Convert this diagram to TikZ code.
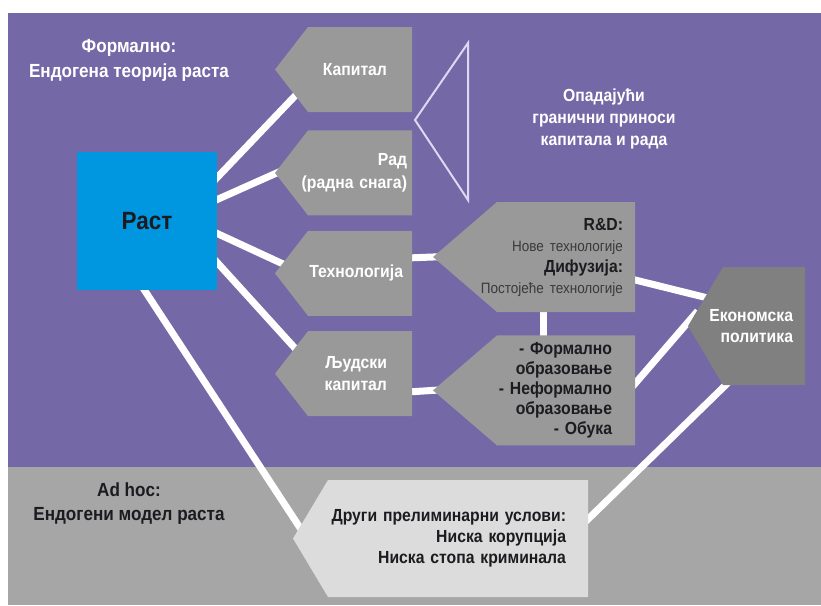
\documentclass[tikz,border=0pt]{standalone}
\usepackage{fontspec}
\setmainfont{Liberation Sans}[FakeStretch=0.9]
\usepackage{tikz}
\usetikzlibrary{positioning,calc,backgrounds}

\definecolor{bgpurple}{RGB}{116,104,166}
\definecolor{bggrey}{RGB}{166,166,166}
\definecolor{boxgrey}{RGB}{153,153,153}
\definecolor{darkgrey}{RGB}{128,128,128}
\definecolor{lightgrey}{RGB}{220,220,220}
\definecolor{rastblue}{RGB}{0,150,224}
\definecolor{bracketline}{RGB}{222,216,242}
\definecolor{darktext}{RGB}{28,28,32}
\definecolor{softtext}{RGB}{58,58,62}

\newcommand{\softline}[1]{{\mdseries\fontsize{15}{21}\selectfont\color{softtext}#1}}

\begin{document}
\begin{tikzpicture}[
    x=1pt, y=1pt,
    node distance=15pt,
    tag/.style 2 args={
        rectangle,
        inner ysep=0pt,
        align=right,
        font=\bfseries\fontsize{17.5}{20}\selectfont,
        path picture={
            \fill[#1] (path picture bounding box.north east)
                -- (path picture bounding box.south east)
                -- ([xshift=#2]path picture bounding box.south west)
                -- (path picture bounding box.west)
                -- ([xshift=#2]path picture bounding box.north west)
                -- cycle;
        }
    },
    leftbox/.style={
        tag={boxgrey}{33},
        minimum width=137pt,
        minimum height=85pt,
        text=white
    },
    mylabel/.style={font=\bfseries\fontsize{19}{25}\selectfont, align=center},
    connector/.style={draw=white, line width=7pt, shorten <=-6pt, shorten >=-6pt},
    ]

    \useasboundingbox (0,0) rectangle (821,-605);

    % left column
    \node[rectangle, fill=rastblue, minimum width=140pt, minimum height=138pt,
          text=darktext, font=\bfseries\fontsize{25}{30}\selectfont] (rast) at (147,-221) {Раст};
    \node[leftbox, inner xsep=25pt, text width=87pt] (kap) at (343.5,-69.5) {Капитал};
    \node[leftbox, inner xsep=5pt, text width=127pt, below=18pt of kap,
          font=\bfseries\fontsize{17.5}{23}\selectfont] (rad) {Рад\\(радна снага)};
    \node[leftbox, inner xsep=9pt, text width=119pt, below=of rad] (tech) {Технологија};
    \node[leftbox, inner xsep=25pt, text width=87pt, below=of tech,
          font=\bfseries\fontsize{17.5}{22}\selectfont] (ljud) {Људски\\капитал};

    % right column
    \node[tag={boxgrey}{64}, minimum width=202pt, minimum height=110pt, inner xsep=12pt,
          text width=178pt, text=darktext,
          font=\bfseries\fontsize{17.5}{21}\selectfont] (rd) at (534,-257)
          {R\&D:\\\softline{Нове технологије}\\Дифузија:\\\softline{Постојеће технологије}};
    \node[tag={boxgrey}{64}, minimum width=202pt, minimum height=110pt, inner xsep=23pt,
          text width=156pt, text=darktext, below=23pt of rd] (obr)
          {- Формално\\образовање\\- Неформално\\образовање\\- Обука};
    \node[tag={darkgrey}{35}, minimum width=117pt, minimum height=118pt, inner xsep=12pt,
          text width=93pt, text=white,
          font=\bfseries\fontsize{17.5}{21}\selectfont] (econ) at (746.5,-326) {Економска\\политика};
    \node[tag={lightgrey}{35}, minimum width=295pt, minimum height=117pt, inner xsep=22pt,
          text width=251pt, text=darktext,
          font=\bfseries\fontsize{17.5}{21}\selectfont] (other) at (440.5,-538.5)
          {Други прелиминарни услови:\\Ниска корупција\\Ниска стопа криминала};

    % free labels
    \node[mylabel, text=white] (formal) at (129,-60) {Формално:\\Ендогена теорија раста};
    \node[mylabel, text=darktext, font=\bfseries\fontsize{19}{24}\selectfont] (adhoc) at (129,-504)
          {Ad hoc:\\Ендогени модел раста};
    \node[mylabel, text=white, font=\bfseries\fontsize{17.5}{22}\selectfont] (returns) at (604,-119)
          {Опадајући\\гранични приноси\\капитала и рада};

    \begin{pgfonlayer}{background}
        \fill[bgpurple] (8,-13) rectangle (821,-467);
        \fill[bggrey] (8,-467) rectangle (821,-605);
        \draw[bracketline, line width=2pt] (415,-120) -- (468,-43) -- (468,-200) -- cycle;

        \draw[connector] ([yshift=43.5]rast.east) -- ([shift={(23,-23.5)}]kap.west);
        \draw[connector] ([yshift=21.5]rast.east) -- ([xshift=2]rad.west);
        \draw[connector] ([yshift=-12.5]rast.east) -- ([shift={(10,8.5)}]tech.west);
        \draw[connector] ([yshift=-41.5]rast.east) -- ([shift={(22,23.5)}]ljud.west);
        \draw[connector] ([xshift=-2.5]rast.south) -- ([shift={(8,9.5)}]other.west);
        \draw[connector] ([yshift=15.5]tech.east) -- (rd.west);
        \draw[connector] ([yshift=-18]ljud.east) -- (obr.west);
        \draw[connector] ([xshift=9]rd.south) -- ([xshift=9]obr.north);
        \draw[connector] ([yshift=-23]rd.east) -- ([shift={(18,28.5)}]econ.west);
        \draw[connector] ([yshift=7]obr.east) -- ([shift={(6,10.5)}]econ.west);
        \draw[connector] ([xshift=-21]econ.south) -- ([yshift=19.5]other.east);
    \end{pgfonlayer}
\end{tikzpicture}
\end{document}
